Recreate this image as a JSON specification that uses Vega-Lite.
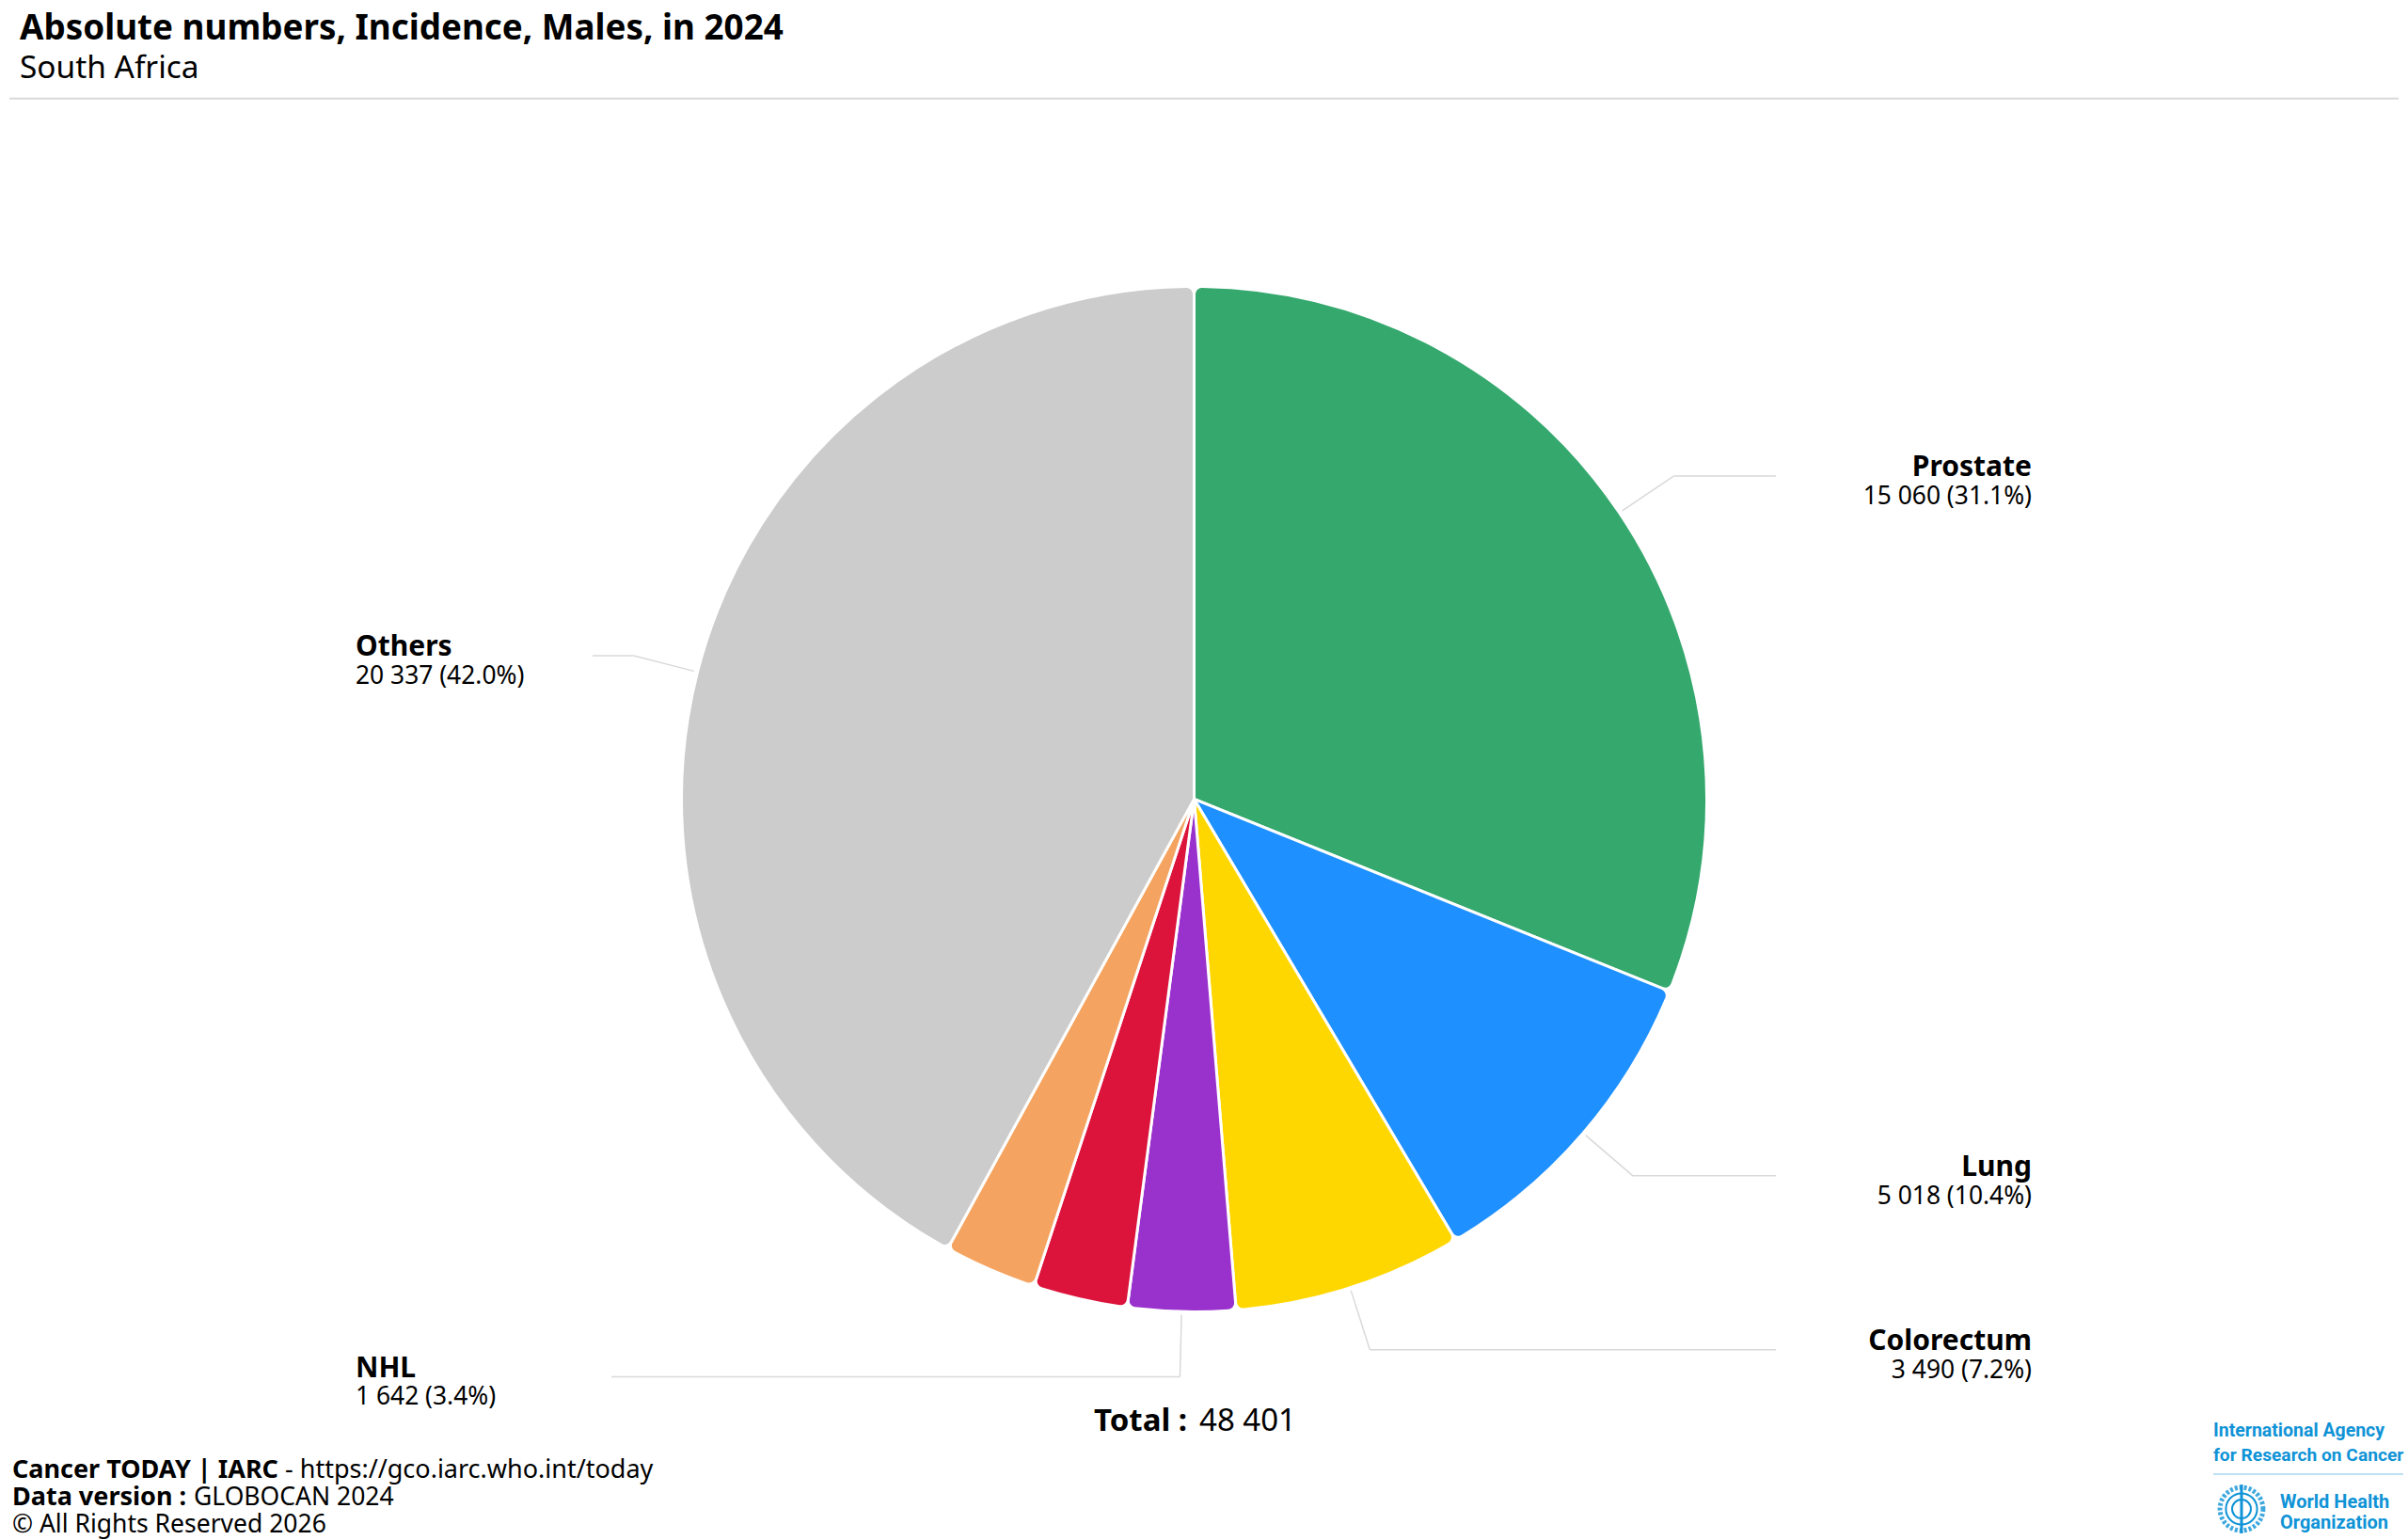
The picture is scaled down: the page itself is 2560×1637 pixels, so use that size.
{
  "$schema": "https://vega.github.io/schema/vega-lite/v6.json",
  "description": "Absolute numbers, Incidence, Males, in 2024 - South Africa",
  "width": 2560,
  "height": 1637,
  "autosize": {"type": "fit", "contains": "padding"},
  "padding": 0,
  "background": "white",
  "config": {
    "view": {"stroke": null},
    "axis": {"disable": true},
    "text": {"font": "Noto Sans", "fill": "#000000", "align": "left", "baseline": "alphabetic"}
  },
  "datasets": {
    "sites": [
      {"site": "Prostate", "cases": 15060, "detail": "15 060 (31.1%)", "rank": 1, "labelled": true},
      {"site": "Lung", "cases": 5018, "detail": "5 018 (10.4%)", "rank": 2, "labelled": true},
      {"site": "Colorectum", "cases": 3490, "detail": "3 490 (7.2%)", "rank": 3, "labelled": true},
      {"site": "NHL", "cases": 1642, "detail": "1 642 (3.4%)", "rank": 4, "labelled": true},
      {"site": "Unnamed red slice", "cases": 1440, "detail": "", "rank": 5, "labelled": false},
      {"site": "Unnamed orange slice", "cases": 1414, "detail": "", "rank": 6, "labelled": false},
      {"site": "Others", "cases": 20337, "detail": "20 337 (42.0%)", "rank": 7, "labelled": true}
    ],
    "emblem": [{"part": "WHO emblem"}]
  },
  "layer": [
    {
      "data": {"name": "sites"},
      "transform": [
        {"joinaggregate": [{"op": "sum", "field": "cases", "as": "total"}]},
        {"window": [{"op": "sum", "field": "cases", "as": "cum"}], "sort": [{"field": "rank", "order": "ascending"}]},
        {"calculate": "2 * PI * (datum.cum - datum.cases / 2) / datum.total", "as": "mid"},
        {"filter": "datum.labelled"},
        {"calculate": "1269.5 + 549 * sin(datum.mid)", "as": "x0"},
        {"calculate": "850.5 - 549 * cos(datum.mid)", "as": "y0"},
        {"calculate": "1269.5 + 615 * sin(datum.mid)", "as": "x1"},
        {"calculate": "850.5 - 615 * cos(datum.mid)", "as": "y1"},
        {"calculate": "datum.mid > PI ? (datum.site === 'NHL' ? 650 : 630) : 1888", "as": "x2"},
        {"calculate": "datum.y1 + 30", "as": "yv"}
      ],
      "layer": [
        {
          "mark": {"type": "rule", "stroke": "#d9d9d9", "strokeWidth": 1.5},
          "encoding": {
            "x": {"field": "x0", "type": "quantitative", "scale": {"domain": [0, 2560], "nice": false, "zero": false}},
            "y": {"field": "y0", "type": "quantitative", "scale": {"domain": [1637, 0], "nice": false, "zero": false}},
            "x2": {"field": "x1"},
            "y2": {"field": "y1"}
          }
        },
        {
          "mark": {"type": "rule", "stroke": "#d9d9d9", "strokeWidth": 1.5},
          "encoding": {
            "x": {"field": "x1", "type": "quantitative"},
            "y": {"field": "y1", "type": "quantitative"},
            "x2": {"field": "x2"}
          }
        },
        {
          "transform": [{"filter": "datum.mid < PI"}],
          "mark": {"type": "text", "fontSize": 30, "fontWeight": 700, "align": "right"},
          "encoding": {
            "x": {"datum": 2160, "type": "quantitative"},
            "y": {"field": "y1", "type": "quantitative"},
            "text": {"field": "site"}
          }
        },
        {
          "transform": [{"filter": "datum.mid < PI"}],
          "mark": {"type": "text", "fontSize": 26.4, "align": "right"},
          "encoding": {
            "x": {"datum": 2160, "type": "quantitative"},
            "y": {"field": "yv", "type": "quantitative"},
            "text": {"field": "detail"}
          }
        },
        {
          "transform": [{"filter": "datum.mid > PI"}],
          "mark": {"type": "text", "fontSize": 30, "fontWeight": 700, "align": "left"},
          "encoding": {
            "x": {"datum": 378, "type": "quantitative"},
            "y": {"field": "y1", "type": "quantitative"},
            "text": {"field": "site"}
          }
        },
        {
          "transform": [{"filter": "datum.mid > PI"}],
          "mark": {"type": "text", "fontSize": 26.4, "align": "left"},
          "encoding": {
            "x": {"datum": 378, "type": "quantitative"},
            "y": {"field": "yv", "type": "quantitative"},
            "text": {"field": "detail"}
          }
        }
      ]
    },
    {
      "data": {"name": "sites"},
      "mark": {"type": "arc", "outerRadius": 545, "cornerRadius": 8, "stroke": "white", "strokeWidth": 3},
      "encoding": {
        "x": {"datum": 1269.5, "type": "quantitative"},
        "y": {"datum": 850.5, "type": "quantitative"},
        "theta": {"field": "cases", "type": "quantitative", "stack": true},
        "order": {"field": "rank", "type": "ordinal"},
        "color": {
          "field": "site",
          "type": "nominal",
          "legend": null,
          "scale": {
            "domain": ["Prostate", "Lung", "Colorectum", "NHL", "Unnamed red slice", "Unnamed orange slice", "Others"],
            "range": ["#35a86e", "#1e90ff", "#ffd700", "#9932cc", "#dc143c", "#f4a460", "#cccccc"]
          }
        }
      }
    },
    {
      "data": {"values": [{"note": "Absolute numbers, Incidence, Males, in 2024"}]},
      "mark": {"type": "text", "fontSize": 36.8, "fontWeight": 700},
      "encoding": {"x": {"datum": 21, "type": "quantitative"}, "y": {"datum": 42, "type": "quantitative"}, "text": {"field": "note"}}
    },
    {
      "data": {"values": [{"note": "South Africa"}]},
      "mark": {"type": "text", "fontSize": 33.4},
      "encoding": {"x": {"datum": 21, "type": "quantitative"}, "y": {"datum": 83, "type": "quantitative"}, "text": {"field": "note"}}
    },
    {
      "data": {"name": "emblem"},
      "mark": {"type": "rule", "stroke": "#d9d9d9", "strokeWidth": 2},
      "encoding": {"x": {"datum": 10, "type": "quantitative"}, "x2": {"datum": 2550}, "y": {"datum": 105, "type": "quantitative"}}
    },
    {
      "data": {"values": [{"note": "Total :"}]},
      "mark": {"type": "text", "fontSize": 33, "fontWeight": 700},
      "encoding": {"x": {"datum": 1163, "type": "quantitative"}, "y": {"datum": 1523, "type": "quantitative"}, "text": {"field": "note"}}
    },
    {
      "data": {"values": [{"note": "48 401"}]},
      "mark": {"type": "text", "fontSize": 33},
      "encoding": {"x": {"datum": 1275, "type": "quantitative"}, "y": {"datum": 1523, "type": "quantitative"}, "text": {"field": "note"}}
    },
    {
      "data": {"values": [{"note": "Cancer TODAY | IARC"}]},
      "mark": {"type": "text", "fontSize": 27, "fontWeight": 700},
      "encoding": {"x": {"datum": 13, "type": "quantitative"}, "y": {"datum": 1573, "type": "quantitative"}, "text": {"field": "note"}}
    },
    {
      "data": {"values": [{"note": "- https://gco.iarc.who.int/today"}]},
      "mark": {"type": "text", "fontSize": 27},
      "encoding": {"x": {"datum": 303, "type": "quantitative"}, "y": {"datum": 1573, "type": "quantitative"}, "text": {"field": "note"}}
    },
    {
      "data": {"values": [{"note": "Data version :"}]},
      "mark": {"type": "text", "fontSize": 27, "fontWeight": 700},
      "encoding": {"x": {"datum": 13, "type": "quantitative"}, "y": {"datum": 1602, "type": "quantitative"}, "text": {"field": "note"}}
    },
    {
      "data": {"values": [{"note": "GLOBOCAN 2024"}]},
      "mark": {"type": "text", "fontSize": 26.5},
      "encoding": {"x": {"datum": 206, "type": "quantitative"}, "y": {"datum": 1602, "type": "quantitative"}, "text": {"field": "note"}}
    },
    {
      "data": {"values": [{"note": "© All Rights Reserved 2026"}]},
      "mark": {"type": "text", "fontSize": 26.5},
      "encoding": {"x": {"datum": 13, "type": "quantitative"}, "y": {"datum": 1631, "type": "quantitative"}, "text": {"field": "note"}}
    },
    {
      "data": {"values": [{"note": "International Agency"}]},
      "mark": {"type": "text", "font": "Roboto", "fontSize": 19.5, "fontWeight": 700, "fill": "#0f93d6"},
      "encoding": {"x": {"datum": 2353, "type": "quantitative"}, "y": {"datum": 1529, "type": "quantitative"}, "text": {"field": "note"}}
    },
    {
      "data": {"values": [{"note": "for Research on Cancer"}]},
      "mark": {"type": "text", "font": "Roboto", "fontSize": 19.2, "fontWeight": 700, "fill": "#0f93d6"},
      "encoding": {"x": {"datum": 2353, "type": "quantitative"}, "y": {"datum": 1555, "type": "quantitative"}, "text": {"field": "note"}}
    },
    {
      "data": {"name": "emblem"},
      "mark": {"type": "rule", "stroke": "#a8d9f0", "strokeWidth": 1.5},
      "encoding": {"x": {"datum": 2353, "type": "quantitative"}, "x2": {"datum": 2555}, "y": {"datum": 1569, "type": "quantitative"}}
    },
    {
      "data": {"values": [{"note": "World Health"}]},
      "mark": {"type": "text", "font": "Roboto", "fontSize": 20, "fontWeight": 700, "fill": "#0f93d6"},
      "encoding": {"x": {"datum": 2424, "type": "quantitative"}, "y": {"datum": 1605, "type": "quantitative"}, "text": {"field": "note"}}
    },
    {
      "data": {"values": [{"note": "Organization"}]},
      "mark": {"type": "text", "font": "Roboto", "fontSize": 20, "fontWeight": 700, "fill": "#0f93d6"},
      "encoding": {"x": {"datum": 2424, "type": "quantitative"}, "y": {"datum": 1627, "type": "quantitative"}, "text": {"field": "note"}}
    },
    {
      "data": {"name": "emblem"},
      "mark": {"type": "point", "shape": "circle", "filled": false, "size": 2100, "stroke": "#0f93d6", "strokeWidth": 5, "strokeDash": [3, 2], "opacity": 0.8},
      "encoding": {"x": {"datum": 2383, "type": "quantitative"}, "y": {"datum": 1606, "type": "quantitative"}}
    },
    {
      "data": {"name": "emblem"},
      "mark": {"type": "point", "shape": "circle", "filled": false, "size": 1100, "stroke": "#0f93d6", "strokeWidth": 2, "opacity": 1},
      "encoding": {"x": {"datum": 2383, "type": "quantitative"}, "y": {"datum": 1606, "type": "quantitative"}}
    },
    {
      "data": {"name": "emblem"},
      "mark": {"type": "point", "shape": "circle", "filled": false, "size": 400, "stroke": "#0f93d6", "strokeWidth": 2, "opacity": 1},
      "encoding": {"x": {"datum": 2383, "type": "quantitative"}, "y": {"datum": 1606, "type": "quantitative"}}
    },
    {
      "data": {"name": "emblem"},
      "mark": {"type": "rule", "stroke": "#0f93d6", "strokeWidth": 3},
      "encoding": {"x": {"datum": 2383, "type": "quantitative"}, "y": {"datum": 1580, "type": "quantitative"}, "y2": {"datum": 1632}}
    }
  ]
}
